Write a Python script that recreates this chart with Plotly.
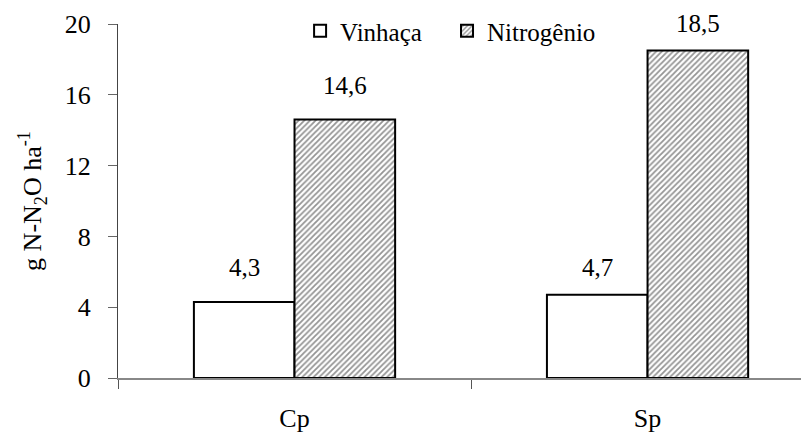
import plotly.graph_objects as go

categories = ["Cp", "Sp"]
vinhaca = [4.3, 4.7]
nitrogenio = [14.6, 18.5]
series_names = ["Vinhaça", "Nitrogênio"]
y_ticks = [0, 4, 8, 12, 16, 20]

FONT = "Times New Roman"

fig = go.Figure()
fig.add_trace(go.Bar(
    x=categories, y=vinhaca, name=series_names[0], legend="legend",
    marker=dict(color="white", line=dict(color="black", width=2)),
))
fig.add_trace(go.Bar(
    x=categories, y=nitrogenio, name=series_names[1], legend="legend2",
    marker=dict(color="white", line=dict(color="black", width=2),
                pattern=dict(shape="/", fgcolor="#2a2a2a", bgcolor="white",
                             size=4, solidity=0.45)),
))

def fmt(v):
    return f"{v:.1f}".replace(".", ",")

bar_px = 50  # half of bar width in pixels
label_lift = [[19, 12], [19, 12]]  # vertical lift of each value label, px
for (vals, shift), lifts in zip(((vinhaca, -bar_px), (nitrogenio, bar_px)), label_lift):
    for c, v, lift in zip(categories, vals, lifts):
        fig.add_annotation(x=c, y=v, text=fmt(v), showarrow=False,
                           xshift=shift, yshift=lift, yanchor="bottom",
                           font=dict(family=FONT, size=25, color="black"))

legend_style = dict(orientation="h", y=1.045, xanchor="left", yanchor="top",
                    font=dict(family=FONT, size=25, color="black"),
                    bgcolor="rgba(0,0,0,0)", itemwidth=30)

fig.update_layout(
    width=809, height=434,
    margin=dict(l=110, r=0, t=16, b=64),
    paper_bgcolor="white", plot_bgcolor="white",
    font=dict(family=FONT, size=25, color="black"),
    barmode="group", bargap=0.43, bargroupgap=0,
    showlegend=True,
    legend=dict(x=0.2605, **legend_style),
    legend2=dict(x=0.4707, **legend_style),
    xaxis=dict(type="category", range=[-0.5, 1.48], showline=True,
               linecolor="#888888", linewidth=1.5, ticks="outside",
               tickson="boundaries", ticklen=9, tickcolor="#555555",
               showgrid=False, zeroline=False, ticklabelstandoff=16,
               tickfont=dict(family=FONT, size=26, color="black")),
    yaxis=dict(range=[0, 20], tickvals=y_ticks, showline=True,
               linecolor="#444444", linewidth=1.2, ticks="outside",
               ticklen=9, tickcolor="#666666", showgrid=False,
               zeroline=False, ticklabelstandoff=12,
               tickfont=dict(family=FONT, size=26, color="black"),
               title=dict(text="g N-N<sub>2</sub>O ha<sup>-1</sup>",
                          font=dict(family=FONT, size=26, color="black"),
                          standoff=15)),
)

fig.write_html("out.html")
